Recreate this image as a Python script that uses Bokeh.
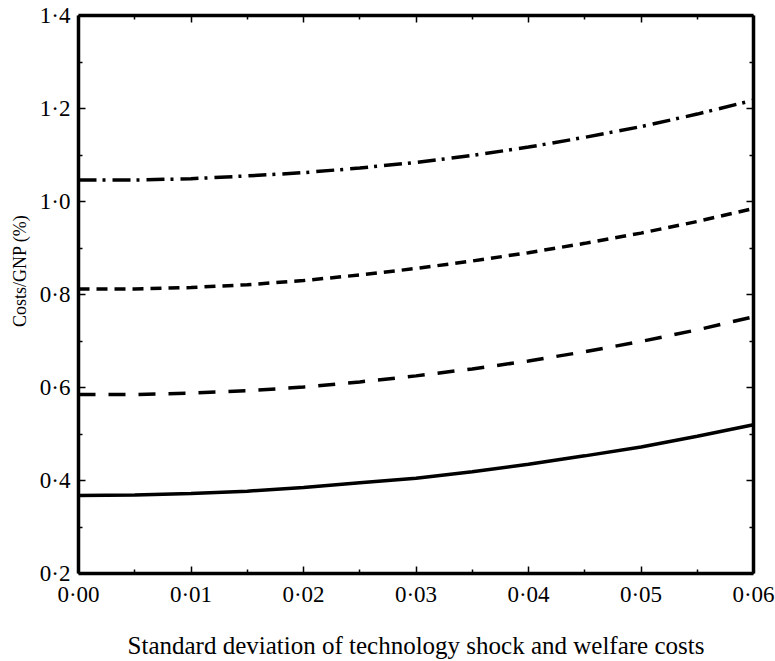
from bokeh.plotting import figure
from bokeh.models import (LinearAxis, FixedTicker, Range1d, Title)
from bokeh.embed import file_html
from bokeh.resources import INLINE

# ---- data ----
sigma = [0.000, 0.005, 0.010, 0.015, 0.020, 0.025, 0.030,
         0.035, 0.040, 0.045, 0.050, 0.055, 0.060]
cost_solid = [0.368, 0.369, 0.372, 0.377, 0.385, 0.395, 0.405,
              0.419, 0.435, 0.453, 0.472, 0.495, 0.520]
cost_longdash = [0.585, 0.585, 0.588, 0.593, 0.601, 0.612, 0.625,
                 0.640, 0.657, 0.677, 0.699, 0.724, 0.752]
cost_shortdash = [0.812, 0.812, 0.815, 0.821, 0.830, 0.842, 0.856,
                  0.872, 0.890, 0.910, 0.932, 0.957, 0.985]
cost_dashdot = [1.046, 1.046, 1.049, 1.055, 1.062, 1.072, 1.084,
                1.099, 1.117, 1.138, 1.161, 1.188, 1.218]

x_ticks = [0.0, 0.01, 0.02, 0.03, 0.04, 0.05, 0.06]
x_tick_labels = ["0·00", "0·01", "0·02", "0·03", "0·04", "0·05", "0·06"]
x_minor = [0.005, 0.015, 0.025, 0.035, 0.045, 0.055]
y_ticks = [0.2, 0.4, 0.6, 0.8, 1.0, 1.2, 1.4]
y_tick_labels = ["0·2", "0·4", "0·6", "0·8", "1·0", "1·2", "1·4"]
y_minor = [0.3, 0.5, 0.7, 0.9, 1.1, 1.3]

x_title = "Standard deviation of technology shock and welfare costs"
y_title = "Costs/GNP (%)"

FONT = "Liberation Serif"

p = figure(width=775, height=661, output_backend="svg", toolbar_location=None,
           x_range=Range1d(0.0, 0.06), y_range=Range1d(0.2, 1.4),
           x_axis_location=None, y_axis_location=None,
           min_border_left=0, min_border_right=22, min_border_top=15,
           min_border_bottom=87)
p.grid.visible = False
p.outline_line_color = None
p.background_fill_color = "white"
p.border_fill_color = "white"

def style_axis(ax, ticks, minor, labels, show_labels, standoff=8):
    ax.ticker = FixedTicker(ticks=ticks, minor_ticks=minor)
    ax.axis_line_width = 3.5
    ax.axis_line_color = "black"
    ax.major_tick_in = 7
    ax.major_tick_out = 0
    ax.minor_tick_in = 4
    ax.minor_tick_out = 0
    ax.major_tick_line_width = 1.5
    ax.minor_tick_line_width = 1.5
    ax.major_tick_line_color = "black"
    ax.minor_tick_line_color = "black"
    if show_labels:
        ax.major_label_overrides = dict(zip(ticks, labels))
        ax.major_label_text_font = FONT
        ax.major_label_text_font_size = "23px"
        ax.major_label_text_color = "black"
        ax.major_label_standoff = standoff
    else:
        ax.major_label_text_font_size = "1px"
        ax.major_label_text_color = None
        ax.major_label_standoff = 0

xb = LinearAxis()
style_axis(xb, x_ticks, x_minor, x_tick_labels, True)
xb.axis_label = x_title
xb.axis_label_text_font = FONT
xb.axis_label_text_font_style = "normal"
xb.axis_label_text_font_size = "25px"
xb.axis_label_text_color = "black"
xb.axis_label_standoff = 22
p.add_layout(xb, "below")

yl = LinearAxis()
style_axis(yl, y_ticks, y_minor, y_tick_labels, True, standoff=8)
p.add_layout(yl, "left")

xt = LinearAxis()
style_axis(xt, x_ticks, x_minor, x_tick_labels, False)
p.add_layout(xt, "above")

yr = LinearAxis()
style_axis(yr, y_ticks, y_minor, y_tick_labels, False)
p.add_layout(yr, "right")

lw = 3.5
p.line(sigma, cost_solid, line_color="black", line_width=lw)
p.line(sigma, cost_longdash, line_color="black", line_width=lw, line_dash="17 13")
p.line(sigma, cost_shortdash, line_color="black", line_width=lw, line_dash="11 7")
p.line(sigma, cost_dashdot, line_color="black", line_width=lw, line_dash="18 6 3 7")

ytitle = Title(text=y_title, align="right", offset=199, standoff=14,
               text_font=FONT, text_font_size="18px", text_font_style="normal",
               text_color="black")
p.add_layout(ytitle, "left")

open("out.html", "w").write(file_html(p, INLINE))
